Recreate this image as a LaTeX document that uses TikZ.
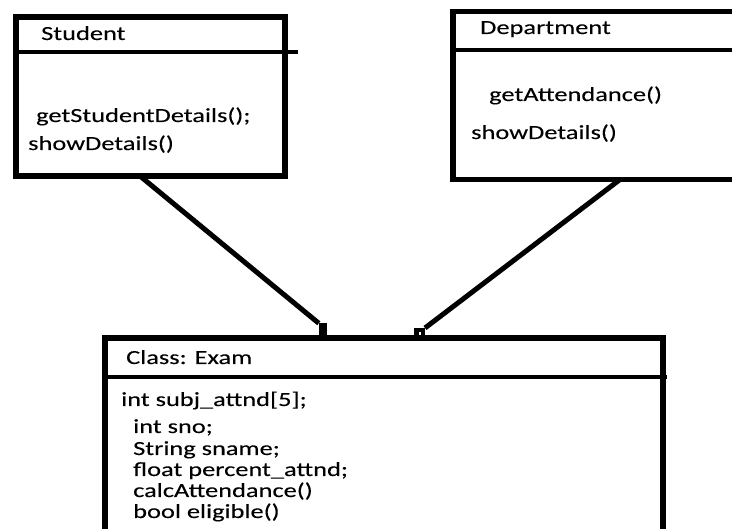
\documentclass[tikz,border=0pt]{standalone}
\usepackage{fontspec}
\setmainfont{Carlito}[FakeStretch=1.32,FakeBold=0.1]
\tikzset{
  classbox/.style={draw, rectangle, line width=5.5pt, anchor=north west, inner sep=0pt, outer sep=0pt},
  member/.style={anchor=base west, inner sep=0pt, font=\fontsize{20}{23}\selectfont},
  divider/.style={line width=4pt},
  link/.style={line width=5pt},
}
\begin{document}
\begin{tikzpicture}[x=1pt,y=-1pt]
      \useasboundingbox (0,0) rectangle (732,529);
      \clip (0,0) rectangle (732,529);
      % class boxes
      \node[classbox, minimum width=269pt, minimum height=159pt] (student) at (16,17) {};
      \node[classbox, minimum width=300pt, minimum height=168pt] (department) at (453,11.5) {};
      \node[classbox, minimum width=558pt, minimum height=220pt] (exam) at (105,338) {};
      \draw[divider] ([yshift=-35pt]student.north west) -- ++(282,0);
      \draw[divider] ([yshift=-38.5pt]department.north west) -- ++(300,0);
      \draw[divider] ([yshift=-39.5pt]exam.north west) -- ++(562,0);
      % members
      \node[member] (student-name) at (41,40) {Student};
      \node[member] (student-op1) at (36,122) {getStudentDetails();};
      \node[member] (student-op2) at (28,150) {showDetails()};
      \node[member] (department-name) at (480,34) {Department};
      \node[member] (department-op1) at (489,101) {getAttendance()};
      \node[member] (department-op2) at (471,139) {showDetails()};
      \node[member] (exam-name) at (126,364) {Class: Exam};
      \node[member] (exam-attr1) at (121,406) {int subj\_attnd[5];};
      \node[member] (exam-attr2) at (133,433) {int sno;};
      \node[member] (exam-attr3) at (133,455) {String sname;};
      \node[member] (exam-attr4) at (133,476) {float percent\_attnd;};
      \node[member] (exam-op1) at (133,497) {calcAttendance()};
      \node[member] (exam-op2) at (133,518) {bool eligible()};
      % associations
      \node[fill, inner sep=0pt, minimum width=8pt, minimum height=13pt] (student-end) at (323,330) {};
      \node[draw, fill=white, line width=4.5pt, inner sep=0pt, minimum width=6.5pt, minimum height=7.5pt] (department-end) at (419.5,334) {};
      \begin{scope}[link]
        \draw ([xshift=-10.5pt]student.south) -- (student-end.north west);
        \draw ([xshift=17pt]department.south) -- (department-end.north east);
      \end{scope}
    \end{tikzpicture}
\end{document}
